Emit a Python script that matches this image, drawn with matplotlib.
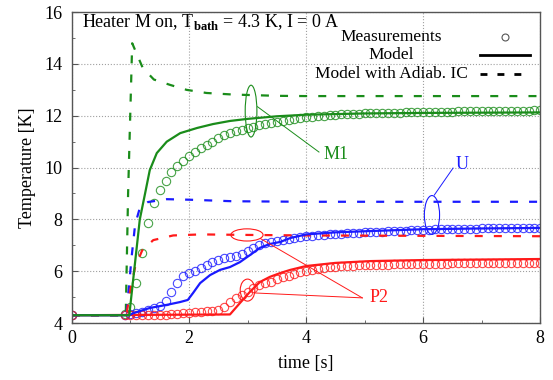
import matplotlib
matplotlib.use('Agg')
import matplotlib.pyplot as plt
from matplotlib.patches import Ellipse

plt.rcParams['font.family'] = ['Liberation Serif', 'DejaVu Serif']
plt.rcParams['mathtext.fontset'] = 'custom'
plt.rcParams['mathtext.rm'] = 'Liberation Serif'
plt.rcParams['mathtext.bf'] = 'Liberation Serif:bold'

# measurement times [s]
t_meas = [0, 0.9, 1.0, 1.1, 1.2, 1.3, 1.4, 1.5, 1.6, 1.7, 1.8, 1.9,
          2.0, 2.1, 2.2, 2.3, 2.4, 2.5, 2.6, 2.7, 2.8, 2.9,
          3.0, 3.1, 3.2, 3.3, 3.4, 3.5, 3.6, 3.7, 3.8, 3.9,
          4.0, 4.1, 4.2, 4.3, 4.4, 4.5, 4.6, 4.7, 4.8, 4.9,
          5.0, 5.1, 5.2, 5.3, 5.4, 5.5, 5.6, 5.7, 5.8, 5.9,
          6.0, 6.1, 6.2, 6.3, 6.4, 6.5, 6.6, 6.7, 6.8, 6.9,
          7.0, 7.1, 7.2, 7.3, 7.4, 7.5, 7.6, 7.7, 7.8, 7.9, 8.0]

m1_meas = [4.3, 4.35, 4.6, 5.55, 6.7, 7.86, 8.65, 9.12, 9.5, 9.82, 10.05, 10.25,
           10.45, 10.62, 10.77, 10.88, 11.0, 11.14, 11.26, 11.34, 11.41, 11.47,
           11.53, 11.58, 11.63, 11.68, 11.72, 11.77, 11.81, 11.85, 11.88, 11.91,
           11.94, 11.96, 11.98, 12.0, 12.02, 12.04, 12.05, 12.06, 12.07, 12.08,
           12.09, 12.1, 12.1, 12.11, 12.11, 12.12, 12.12, 12.13, 12.13, 12.14,
           12.14, 12.15, 12.15, 12.16, 12.16, 12.16, 12.17, 12.17, 12.17, 12.18,
           12.18, 12.18, 12.19, 12.19, 12.19, 12.2, 12.2, 12.2, 12.2, 12.21, 12.21]

u_meas = [4.3, 4.32, 4.35, 4.38, 4.42, 4.5, 4.58, 4.66, 4.85, 5.2, 5.55, 5.8,
          5.92, 6.02, 6.12, 6.25, 6.35, 6.42, 6.5, 6.55, 6.6, 6.67,
          6.78, 6.9, 7.0, 7.07, 7.13, 7.18, 7.22, 7.26, 7.29, 7.32,
          7.34, 7.36, 7.38, 7.4, 7.42, 7.43, 7.45, 7.46, 7.47, 7.48,
          7.5, 7.51, 7.52, 7.53, 7.54, 7.55, 7.56, 7.57, 7.58, 7.59,
          7.6, 7.6, 7.61, 7.61, 7.62, 7.62, 7.63, 7.63, 7.64, 7.64,
          7.65, 7.65, 7.66, 7.66, 7.66, 7.67, 7.67, 7.67, 7.68, 7.68, 7.68]

p2_meas = [4.3, 4.3, 4.3, 4.3, 4.3, 4.3, 4.3, 4.31, 4.32, 4.33, 4.35, 4.37,
           4.39, 4.41, 4.43, 4.45, 4.47, 4.5, 4.6, 4.8, 4.98, 5.1,
           5.2, 5.36, 5.46, 5.53, 5.59, 5.68, 5.76, 5.83, 5.89, 5.95,
           6.0, 6.05, 6.09, 6.12, 6.15, 6.17, 6.19, 6.2, 6.21, 6.22,
           6.23, 6.24, 6.24, 6.25, 6.25, 6.26, 6.26, 6.27, 6.27, 6.28,
           6.28, 6.28, 6.29, 6.29, 6.29, 6.3, 6.3, 6.3, 6.3, 6.31,
           6.31, 6.31, 6.31, 6.31, 6.32, 6.32, 6.32, 6.32, 6.32, 6.32, 6.32]

# model curves
t_m1 = [0, 0.98, 1.16, 1.25, 1.33, 1.45, 1.62, 1.85, 2.14, 2.41, 2.7, 3.0, 3.5, 4.0, 5.0, 6.0, 7.0, 8.0]
m1_model = [4.3, 4.3, 8.0, 9.0, 9.9, 10.56, 11.0, 11.33, 11.53, 11.68, 11.8, 11.88, 11.98, 12.04, 12.09, 12.11, 12.12, 12.13]
t_m1_ad = [0, 0.92, 0.96, 1.03, 1.13, 1.21, 1.4, 1.68, 1.96, 2.3, 2.75, 3.5, 4.0, 8.0]
m1_adiab = [4.3, 4.3, 9.0, 14.8, 14.27, 13.85, 13.4, 13.19, 13.0, 12.88, 12.82, 12.77, 12.76, 12.76]

t_u = [0, 0.98, 1.05, 1.33, 1.62, 1.85, 1.98, 2.07, 2.19, 2.36, 2.53, 2.7, 2.87, 3.04, 3.21, 3.38,
       3.56, 3.73, 4.0, 4.5, 5.1, 6.0, 7.0, 8.0]
u_model = [4.3, 4.3, 4.38, 4.58, 4.7, 4.81, 4.89, 5.16, 5.54, 5.85, 6.05, 6.16, 6.35, 6.62, 6.9, 7.05,
           7.13, 7.28, 7.42, 7.5, 7.55, 7.62, 7.65, 7.67]
t_u_ad = [0, 0.93, 0.97, 1.02, 1.08, 1.16, 1.3, 1.62, 2.0, 2.75, 4.0, 8.0]
u_adiab = [4.3, 4.3, 5.3, 6.55, 7.8, 8.44, 8.67, 8.78, 8.76, 8.7, 8.68, 8.68]

t_p2 = [0, 2.7, 2.87, 3.04, 3.21, 3.38, 3.56, 3.73, 4.0, 4.5, 5.1, 6.0, 7.0, 8.0]
p2_model = [4.3, 4.33, 4.77, 5.2, 5.58, 5.78, 5.93, 6.05, 6.2, 6.32, 6.39, 6.43, 6.45, 6.47]
t_p2_ad = [0, 0.93, 1.0, 1.08, 1.2, 1.39, 1.73, 2.2, 3.0, 4.0, 8.0]
p2_adiab = [4.3, 4.3, 5.3, 6.16, 6.8, 7.2, 7.38, 7.42, 7.4, 7.38, 7.35]

green = '#1a8c1a'
blue = '#1a1aff'
red = '#ff1a1a'
dash = (0, (3.6, 5.0))

fig = plt.figure(figsize=(5.53, 3.80), dpi=100)
ax = fig.add_axes([0.130, 0.150, 0.847, 0.818])

for t, y, c in [(t_meas, m1_meas, green), (t_meas, u_meas, blue), (t_meas, p2_meas, red)]:
    ax.plot(t, y, 'o', ms=6, mfc='none', mec=c, mew=0.8, alpha=0.8)

ax.plot(t_m1_ad, m1_adiab, color=green, lw=1.6, ls=dash)
ax.plot(t_u_ad, u_adiab, color=blue, lw=1.6, ls=dash)
ax.plot(t_p2_ad, p2_adiab, color=red, lw=1.6, ls=dash)
ax.plot(t_p2, p2_model, color=red, lw=1.6)
ax.plot(t_u, u_model, color=blue, lw=1.6)
ax.plot(t_m1, m1_model, color=green, lw=1.6)

# annotations
ax.add_patch(Ellipse((3.06, 12.18), 0.2, 2.0, fill=False, ec=green, lw=0.8))
ax.plot([3.17, 4.22], [12.35, 10.6], color=green, lw=0.7)
ax.text(4.3, 10.5, 'M1', color=green, fontsize=13, va='center')

ax.add_patch(Ellipse((6.15, 8.17), 0.26, 1.5, fill=False, ec=blue, lw=0.8))
ax.plot([6.19, 6.51], [8.94, 9.98], color=blue, lw=0.7)
ax.text(6.55, 10.1, 'U', color=blue, fontsize=13, va='center')

ax.add_patch(Ellipse((2.99, 7.4), 0.55, 0.47, fill=False, ec=red, lw=0.8))
ax.add_patch(Ellipse((3.0, 5.27), 0.25, 0.85, fill=False, ec=red, lw=0.8))
ax.plot([3.22, 4.96], [7.26, 4.97], color=red, lw=0.7)
ax.plot([3.12, 4.96], [5.16, 4.97], color=red, lw=0.7)
ax.text(5.08, 4.97, 'P2', color=red, fontsize=13, va='center')

ax.text(0.021, 0.968, r'Heater M on, T$_{\mathbf{bath}}$ = 4.3 K, I = 0 A',
        transform=ax.transAxes, fontsize=13, va='center')

# legend drawn by hand
rows = [0.920, 0.862, 0.801]
ax.text(0.682, rows[0], 'Measurements', transform=ax.transAxes, fontsize=12.5, ha='center', va='center')
ax.text(0.682, rows[1], 'Model', transform=ax.transAxes, fontsize=12.5, ha='center', va='center')
ax.text(0.682, rows[2], 'Model with Adiab. IC', transform=ax.transAxes, fontsize=12.5, ha='center', va='center')
ax.plot([0.925], [rows[0]], 'o', ms=5, mfc='none', mec='#555555', mew=0.8, transform=ax.transAxes)
ax.plot([0.872, 0.979], [rows[1], rows[1]], color='black', lw=2, transform=ax.transAxes)
ax.plot([0.872, 0.979], [rows[2], rows[2]], color='black', lw=2, ls=(0, (2.5, 3.6)), transform=ax.transAxes)

ax.set_xlim(0, 8)
ax.set_ylim(4, 16)
ax.set_xticks([0, 2, 4, 6, 8])
ax.set_yticks([4, 6, 8, 10, 12, 14, 16])
ax.set_xticks([1, 3, 5, 7], minor=True)
ax.set_yticks([5, 7, 9, 11, 13, 15], minor=True)
ax.tick_params(which='both', direction='in', labelsize=13, color='#555555')
ax.tick_params(which='major', length=4)
ax.tick_params(which='minor', length=2.5)
ax.tick_params(axis='x', pad=5)
ax.tick_params(axis='y', pad=7)
ax.grid(True, which='major', color='#a0a0a0', ls=':', lw=0.8)
for s in ax.spines.values():
    s.set_color('#555555')
    s.set_linewidth(1.0)

ax.set_xlabel('time [s]', fontsize=13, labelpad=6)
ax.set_ylabel('Temperature [K]', fontsize=13, labelpad=6)

fig.savefig('out.png', dpi=100)
